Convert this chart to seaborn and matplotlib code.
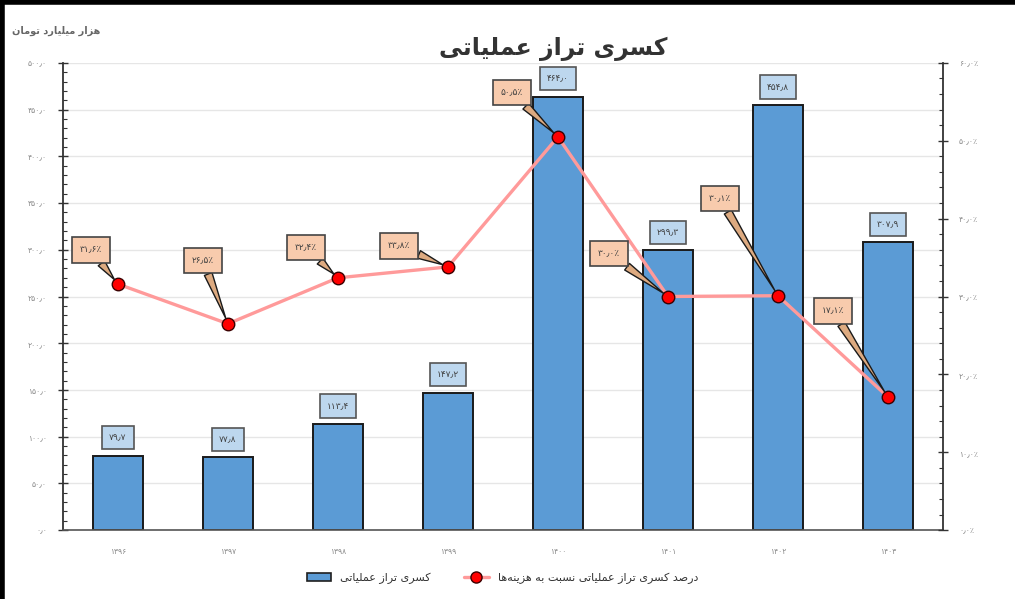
import matplotlib
matplotlib.use("Agg")
import matplotlib.pyplot as plt
import numpy as np
import pandas as pd
import seaborn as sns
from matplotlib.lines import Line2D
from matplotlib.patches import Patch
from matplotlib.ticker import MultipleLocator, FuncFormatter

# data
years = [1396, 1397, 1398, 1399, 1400, 1401, 1402, 1403]
deficit = [79.7, 77.8, 113.4, 147.2, 464.0, 299.3, 454.8, 307.9]
deficit_pct = [31.6, 26.5, 32.4, 33.8, 50.5, 30.0, 30.1, 17.1]

title = "کسری تراز عملیاتی"
unit_label = "هزار میلیارد تومان"
bar_name = "کسری تراز عملیاتی"
line_name = "درصد کسری تراز عملیاتی نسبت به هزینه\u200cها"

# callout offsets (pixels) for the percentage labels
pct_offsets = [(-27, 34), (-25, 63), (-32, 30), (-49, 21),
               (-46, 44), (-59, 43), (-58, 97), (-55, 86)]

# --- tiny arabic shaper (matplotlib has no bidi / joining) ---
FOUR = {'ب': 0xFE8F, 'پ': 0xFB56, 'ت': 0xFE95, 'ث': 0xFE99, 'ج': 0xFE9D,
        'چ': 0xFB7A, 'ح': 0xFEA1, 'خ': 0xFEA5, 'س': 0xFEB1, 'ش': 0xFEB5,
        'ص': 0xFEB9, 'ض': 0xFEBD, 'ط': 0xFEC1, 'ظ': 0xFEC5, 'ع': 0xFEC9,
        'غ': 0xFECD, 'ف': 0xFED1, 'ق': 0xFED5, 'ک': 0xFB8E, 'گ': 0xFB92,
        'ل': 0xFEDD, 'م': 0xFEE1, 'ن': 0xFEE5, 'ه': 0xFEE9, 'ی': 0xFBFC}
TWO = {'ا': 0xFE8D, 'آ': 0xFE81, 'د': 0xFEA9, 'ذ': 0xFEAB, 'ر': 0xFEAD,
       'ز': 0xFEAF, 'ژ': 0xFB8A, 'و': 0xFEED}


def shape(text):
    out = []
    for i, c in enumerate(text):
        if c == '\u200c':
            continue
        if c not in FOUR and c not in TWO:
            out.append(c)
            continue
        prev = text[i - 1] if i > 0 else ''
        nxt = text[i + 1] if i + 1 < len(text) else ''
        join_prev = prev in FOUR
        join_next = c in FOUR and (nxt in FOUR or nxt in TWO)
        if c in TWO:
            out.append(chr(TWO[c] + (1 if join_prev else 0)))
        else:
            base = FOUR[c]
            if join_prev and join_next:
                out.append(chr(base + 3))
            elif join_prev:
                out.append(chr(base + 1))
            elif join_next:
                out.append(chr(base + 2))
            else:
                out.append(chr(base))
    return ''.join(reversed(out))


def fa(s):
    return s.translate(str.maketrans('0123456789.', '۰۱۲۳۴۵۶۷۸۹٫'))


sns.set_theme(style="white")
plt.rcParams['font.family'] = ['DejaVu Sans']

df = pd.DataFrame({'year': [fa(str(y)) for y in years], 'deficit': deficit,
                   'pct': deficit_pct})

fig = plt.figure(figsize=(10.15, 5.99), dpi=100)
ax = fig.add_axes([0.062, 0.115, 0.867, 0.78])

bar_color = '#5B9BD5'
sns.barplot(data=df, x='year', y='deficit', color=bar_color, width=0.45,
            edgecolor='#1a1a1a', linewidth=1.4, saturation=1, ax=ax, zorder=2)

ax.set_ylim(0, 500)
ax.set_xlim(-0.5, len(years) - 0.5)
ax.yaxis.set_major_locator(MultipleLocator(50))
ax.yaxis.set_minor_locator(MultipleLocator(10))
ax.yaxis.set_major_formatter(FuncFormatter(lambda v, p: fa(f"{v:.1f}")))
ax.grid(axis='y', color='#e6e6e6', linewidth=1, zorder=0)
ax.set_axisbelow(True)
ax.set_xlabel('')
ax.set_ylabel('')
ax.tick_params(axis='y', which='major', direction='inout', length=7, width=1,
               color='#333333', labelsize=5.5, labelcolor='#8a8a8a', left=True, pad=8)
ax.tick_params(axis='y', which='minor', direction='in', length=3, width=0.8,
               color='#333333', left=True)
ax.tick_params(axis='x', length=0, labelsize=5.5, labelcolor='#8a8a8a', pad=12)
ax.spines['top'].set_visible(False)
ax.spines['left'].set_color('#333333')
ax.spines['left'].set_linewidth(1.3)
ax.spines['bottom'].set_color('#555555')
ax.spines['bottom'].set_linewidth(1.2)
ax.spines['right'].set_visible(False)

for i, v in enumerate(deficit):
    ax.annotate(fa(f"{v:.1f}"), (i, v), xytext=(0, 18), textcoords='offset pixels',
                ha='center', va='center', fontsize=6.5, color='#404040',
                bbox=dict(boxstyle='square,pad=0.8', fc='#BDD7EE', ec='#555555', lw=1.2),
                zorder=5)

ax2 = ax.twinx()
ax2.set_ylim(0, 60)
ax2.yaxis.set_major_locator(MultipleLocator(10))
ax2.yaxis.set_minor_locator(MultipleLocator(2))
ax2.yaxis.set_major_formatter(FuncFormatter(lambda v, p: fa(f"{v:.1f}") + '٪'))
ax2.tick_params(axis='y', which='major', direction='inout', length=7, width=1,
                color='#333333', labelsize=5.5, labelcolor='#8a8a8a', right=True, pad=8)
ax2.tick_params(axis='y', which='minor', direction='in', length=3, width=0.8,
                color='#333333', right=True)
ax2.grid(False)
for s in ['top', 'left', 'bottom']:
    ax2.spines[s].set_visible(False)
ax2.spines['right'].set_color('#333333')
ax2.spines['right'].set_linewidth(1.3)

xs = np.arange(len(years))
sns.lineplot(x=xs, y=deficit_pct, ax=ax2, color='#FF9A9A', linewidth=2.4,
             marker='o', markersize=9, markerfacecolor='#FF0000',
             markeredgecolor='#3a0000', markeredgewidth=1, zorder=4)
ax2.set_xlim(-0.5, len(years) - 0.5)

for i, v in enumerate(deficit_pct):
    ax2.annotate(fa(f"{v:.1f}") + '٪', (i, v), xytext=pct_offsets[i],
                 textcoords='offset pixels', ha='center', va='center',
                 fontsize=6.5, color='#404040',
                 bbox=dict(boxstyle='square,pad=0.9', fc='#F8CBAD', ec='#444444', lw=1.2),
                 arrowprops=dict(arrowstyle='wedge,tail_width=0.9,shrink_factor=0.5',
                                 fc='#DDAA80', ec='#1a1a1a', lw=1,
                                 shrinkA=0, shrinkB=4),
                 zorder=6)

fig.text(0.545, 0.918, shape(title), ha='center', va='center', fontsize=17,
         fontweight='bold', color='#333333')
fig.text(0.055, 0.948, shape(unit_label), ha='center', va='center', fontsize=7,
         fontweight='bold', color='#666666')

handles = [Patch(fc=bar_color, ec='#1f1f1f', lw=1.2),
           Line2D([], [], color='#FF9A9A', lw=2.4, marker='o', markersize=8,
                  markerfacecolor='#FF0000', markeredgecolor='#3a0000')]
fig.legend(handles, [shape(bar_name), shape(line_name)], loc='center',
           bbox_to_anchor=(0.495, 0.035), ncol=2, frameon=False, fontsize=8,
           handlelength=2.2, handleheight=0.8, columnspacing=3,
           labelcolor='#333333')

# screenshot frame
fig.add_artist(Line2D([0.002, 0.002], [0, 1], transform=fig.transFigure,
                      color='black', lw=4))
fig.add_artist(Line2D([0, 1], [0.996, 0.996], transform=fig.transFigure,
                      color='black', lw=4))

fig.savefig('out.png', dpi=100)
